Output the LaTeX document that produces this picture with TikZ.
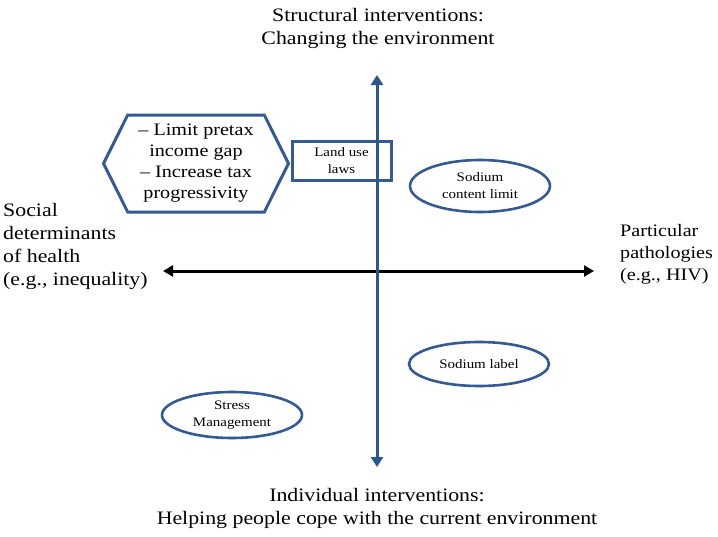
\documentclass[tikz,border=0pt]{standalone}
\usepackage{fontspec}
\setmainfont{Liberation Serif}[FakeStretch=1.15]
\usetikzlibrary{shapes,arrows.meta,positioning}
\definecolor{axisblue}{RGB}{42,87,140}
\definecolor{edgeblue}{RGB}{52,90,148}

\begin{document}
\begin{tikzpicture}[
    x=1pt, y=-1pt,
    every node/.style={font=\fontsize{13}{17}\selectfont, inner sep=0pt},
    heading/.style={font=\fontsize{19}{23}\selectfont, align=center},
    sidelabel/.style={font=\fontsize{19}{23}\selectfont, align=left, anchor=west},
    hexbox/.style={signal, signal to=west and east, signal pointer angle=127, draw=edgeblue, line width=3pt, minimum width=185, minimum height=97, align=center, font=\fontsize{17.5}{21}\selectfont},
    lawbox/.style={rectangle, draw=edgeblue, line width=3pt, minimum width=99, minimum height=39, align=center},
    oval/.style={ellipse, draw=edgeblue, line width=2.6pt, minimum width=140, align=center},
    vaxis/.style={{Triangle[length=10pt,width=12pt]}-{Triangle[length=10pt,width=12pt]}, draw=axisblue, line width=3pt},
    haxis/.style={{Triangle[length=10pt,width=11pt]}-{Triangle[length=10pt,width=11pt]}, line width=3pt}
]
\useasboundingbox (0,0) rectangle (718,536);

% Axis labels
\node[heading] (struct) at (378,28.5) {Structural interventions:\\Changing the environment};
\node[heading] (indiv) at (377,508.5) {Individual interventions:\\Helping people cope with the current environment};
\node[sidelabel] (social) at (3,246.5) {Social\\determinants\\of health\\(e.g., inequality)};
\node[sidelabel, font=\fontsize{17.5}{22}\selectfont] (patho) at (620,254) {Particular\\pathologies\\(e.g., HIV)};

% Interventions
\node[hexbox] (taxes) at (196,163.5) {-- Limit pretax\\income gap\\-- Increase tax\\progressivity};
\node[lawbox] (landuse) at (341.5,160.5) {Land use\\laws};
\node[oval, minimum height=52] (content) at (480,186) {Sodium\\content limit};
\node[oval, minimum height=44] (label) at (479,364) {Sodium label};
\node[oval, minimum height=46] (stress) at (232,415) {Stress\\Management};

% Axes
\coordinate (top) at (377,75);
\coordinate (bottom) at (377,467);
\coordinate (left) at (163,271);
\coordinate (right) at (594,271);
\draw[haxis] (left) -- (right);
\draw[vaxis] (bottom) -- (top);

\end{tikzpicture}
\end{document}
